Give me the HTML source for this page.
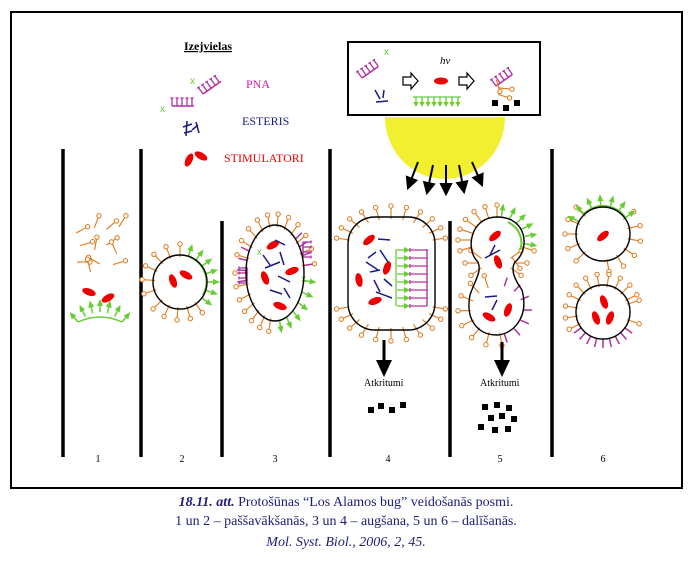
<!DOCTYPE html>
<html><head><meta charset="utf-8"><style>
html,body{margin:0;padding:0;background:#fff;}
body{width:692px;height:562px;overflow:hidden;position:relative;font-family:"Liberation Serif",serif;}
.cap{position:absolute;left:0;width:692px;text-align:center;color:#1c1c78;font-size:14px;line-height:16px;}
</style></head><body>
<svg id="s" width="692" height="562" style="position:absolute;left:0;top:0" font-family="Liberation Serif, serif">
<rect x="11" y="12" width="671" height="476" fill="none" stroke="#000" stroke-width="2"/>
<g stroke="#000" stroke-width="3.5">
<line x1="63" y1="149" x2="63" y2="457"/><line x1="141" y1="149" x2="141" y2="457"/>
<line x1="222" y1="221" x2="222" y2="457"/><line x1="330" y1="149" x2="330" y2="457"/>
<line x1="450" y1="221" x2="450" y2="457"/><line x1="552" y1="149" x2="552" y2="457"/>
</g>
<g font-size="10" text-anchor="middle"><text x="98" y="462">1</text><text x="182" y="462">2</text><text x="275" y="462">3</text><text x="388" y="462">4</text><text x="500" y="462">5</text><text x="603" y="462">6</text></g>
<!-- legend -->
<text x="184" y="50" font-size="12" font-weight="bold" text-decoration="underline">Izejvielas</text>
<text x="246" y="88" font-size="12" fill="#d020a0">PNA</text>
<text x="242" y="125" font-size="12" fill="#1a1a80">ESTERIS</text>
<text x="224" y="162" font-size="12" fill="#ee0000">STIMULATORI</text>
<g id="legend"></g>
<ellipse cx="189" cy="160" rx="3.5" ry="7" fill="#e00" transform="rotate(25 189 160)"/>
<ellipse cx="201" cy="156" rx="7" ry="3.5" fill="#e00" transform="rotate(30 201 156)"/>
<!-- top box -->
<rect x="348" y="42" width="192" height="73" fill="#fff" stroke="#000" stroke-width="2"/>
<path d="M385 117 A60 62 0 0 0 505 117 Z" fill="#f2ee30"/>
<text x="440" y="64" font-size="11" font-style="italic">hν</text>
<ellipse cx="441" cy="81" rx="7" ry="3.5" fill="#e00"/>
<path d="M403 77h8v-4l7 8-7 8v-4h-8z M459 77h8v-4l7 8-7 8v-4h-8z" fill="#fff" stroke="#000" stroke-width="1.2"/>
<g fill="#000"><rect x="492" y="100" width="6" height="6"/><rect x="503" y="105" width="6" height="6"/><rect x="514" y="100" width="6" height="6"/></g>
<g id="dyn"></g>
<!-- light arrows -->
<g stroke="#000" stroke-width="2" fill="#000" id="larr"></g>
<!-- cells -->
<g fill="none" stroke="#000" stroke-width="1.4">
<circle cx="180" cy="282" r="27"/>
<ellipse cx="275" cy="273" rx="29" ry="48"/>
<path d="M375 217 H408 A27 27 0 0 1 435 244 V303 A27 27 0 0 1 408 330 H375 A27 27 0 0 1 348 303 V244 A27 27 0 0 1 375 217Z"/>
<path d="M497 217 C528 217 530 250 515 262 C510 270 515 280 522 290 C530 320 510 335 497 335 C478 335 465 320 470 295 C475 280 482 272 478 262 C465 250 470 217 497 217Z"/>
<circle cx="603" cy="234" r="27"/><circle cx="603" cy="312" r="27"/>
</g>
<!-- down arrows -->
<line x1="384" y1="340" x2="384" y2="364" stroke="#000" stroke-width="3"/><path d="M376 360 L392 360 L384 377Z"/>
<line x1="502" y1="342" x2="502" y2="364" stroke="#000" stroke-width="3"/><path d="M494 360 L510 360 L502 377Z"/>
<text x="364" y="386" font-size="10">Atkritumi</text>
<text x="480" y="386" font-size="10">Atkritumi</text>
<g fill="#000">
<rect x="368" y="407" width="6" height="6"/><rect x="378" y="403" width="6" height="6"/><rect x="389" y="407" width="6" height="6"/><rect x="400" y="402" width="6" height="6"/>
<rect x="482" y="404" width="6" height="6"/><rect x="494" y="402" width="6" height="6"/><rect x="506" y="405" width="6" height="6"/>
<rect x="488" y="415" width="6" height="6"/><rect x="499" y="413" width="6" height="6"/><rect x="511" y="416" width="6" height="6"/>
<rect x="478" y="424" width="6" height="6"/><rect x="492" y="427" width="6" height="6"/><rect x="505" y="426" width="6" height="6"/>
</g>
</svg>
<div class="cap" style="top:495px"><b><i>18.11. att.</i></b> Protošūnas “Los Alamos bug” veidošanās posmi.</div>
<div class="cap" style="top:514px">1 un 2 – paššavākšanās, 3 un 4 – augšana, 5 un 6 – dalīšanās.</div>
<div class="cap" style="top:535px"><i>Mol. Syst. Biol., 2006, 2, 45.</i></div>
<script>
var NS="http://www.w3.org/2000/svg",S=document.getElementById("dyn");
function el(t,a,p){var e=document.createElementNS(NS,t);for(var k in a)e.setAttribute(k,a[k]);(p||S).appendChild(e);return e;}
var OR="#e07818",GR="#66cc33",PU="#b030a0",BL="#1a1a80";
function lipid(x,y,ang,len){len=len||11;var dx=Math.cos(ang),dy=Math.sin(ang);
 el("line",{x1:x-dx*2,y1:y-dy*2,x2:x+dx*len,y2:y+dy*len,stroke:OR,"stroke-width":1.1});
 el("circle",{cx:x+dx*(len+2),cy:y+dy*(len+2),r:2.2,fill:"#fff",stroke:OR,"stroke-width":1});}
function green(x,y,ang){var dx=Math.cos(ang),dy=Math.sin(ang),px=-dy,py=dx;
 el("line",{x1:x,y1:y,x2:x+dx*7,y2:y+dy*7,stroke:GR,"stroke-width":1.5});
 el("path",{d:"M"+(x+dx*13)+" "+(y+dy*13)+"L"+(x+dx*6+px*3)+" "+(y+dy*6+py*3)+"L"+(x+dx*6-px*3)+" "+(y+dy*6-py*3)+"Z",fill:GR});}
function purple(x,y,ang){var dx=Math.cos(ang),dy=Math.sin(ang);
 el("line",{x1:x,y1:y,x2:x+dx*9,y2:y+dy*9,stroke:PU,"stroke-width":1.5});}
function ring(cx,cy,rx,ry,a0,a1,n,fn,off){off=off||0;for(var i=0;i<n;i++){var a=a0+(a1-a0)*i/(n-1);
 fn(cx+(rx+off)*Math.cos(a),cy+(ry+off)*Math.sin(a),a);}}
function red(x,y,r){el("ellipse",{cx:x,cy:y,rx:7,ry:3.5,fill:"#e00",transform:"rotate("+r+" "+x+" "+y+")"});}
function bl(x1,y1,x2,y2){el("line",{x1:x1,y1:y1,x2:x2,y2:y2,stroke:BL,"stroke-width":1.5});}
function cross(x,y){el("text",{x:x,y:y,"font-size":10,fill:GR,"font-family":"Liberation Sans"}).textContent="x";}
function comb(x,y,w,rot){var g=el("g",{transform:"rotate("+rot+" "+x+" "+y+")"});
 el("line",{x1:x,y1:y,x2:x+w,y2:y,stroke:PU,"stroke-width":1.5},g);
 for(var i=0;i<=w;i+=5){el("line",{x1:x+i,y1:y,x2:x+i,y2:y-8,stroke:PU,"stroke-width":1.3},g);
 el("line",{x1:x+i-1.5,y1:y-8,x2:x+i+1.5,y2:y-8,stroke:PU,"stroke-width":1.3},g);}}
// legend
comb(172,106,22,0);comb(203,94,22,-35);cross(160,112);cross(190,84);
bl(183,127,192,124);bl(187,121,186,136);bl(192,130,198,125);bl(196,122,199,133);bl(184,133,192,131);
// box
comb(362,78,20,-35);cross(384,55);comb(496,86,20,-35);bl(375,90,380,99);bl(384,90,383,98);bl(376,102,388,101);
for(var i=0;i<8;i++){var x=416+i*6;el("line",{x1:x,y1:97,x2:x,y2:103,stroke:GR,"stroke-width":1.3});el("path",{d:"M"+(x-2.5)+" 102 L"+(x+2.5)+" 102 L"+x+" 107Z",fill:GR});}
el("line",{x1:413,y1:97,x2:461,y2:97,stroke:GR,"stroke-width":1.3});
lipid(497,82,Math.PI/2-0.3,8);lipid(500,88,0.1,10);lipid(500,95,0.3,8);
// light arrows
var L=document.getElementById("larr");
[[418,162,408,188],[433,165,427,193],[446,165,446,194],[459,165,464,192],[472,162,482,185]].forEach(function(a){
 var dx=a[2]-a[0],dy=a[3]-a[1],l=Math.hypot(dx,dy),ux=dx/l,uy=dy/l;
 el("line",{x1:a[0],y1:a[1],x2:a[2]-ux*8,y2:a[3]-uy*8,stroke:"#000","stroke-width":2},L);
 el("path",{d:"M"+a[2]+" "+a[3]+"L"+(a[2]-ux*10-uy*5)+" "+(a[3]-uy*10+ux*5)+"L"+(a[2]-ux*10+uy*5)+" "+(a[3]-uy*10-ux*5)+"Z"},L);});
// panel 1
var P1=[[78,232,-0.5],[95,226,-1.2],[108,228,-0.7],[120,225,-1.0],[82,245,-0.3],[95,248,-1.4],[108,244,-0.6],[116,252,-2],[79,262,0],[98,263,-2.6],[115,264,-0.3],[90,270,-1.8]];
P1.forEach(function(p){lipid(p[0],p[1],p[2],9);});
red(89,292,20);red(108,298,-30);
el("path",{d:"M78 322 Q100 312 122 322",fill:"none",stroke:GR,"stroke-width":1.5});
for(var i=0;i<7;i++){var t=i/6,x=78+44*t,y=322-20*t*(1-t)*2;green(x,y,-Math.PI/2+(t-0.5)*1.4);}
// cell2
ring(180,282,27,27,Math.PI*0.9,Math.PI*1.5,6,function(x,y,a){lipid(x,y,a,9);});
ring(180,282,27,27,Math.PI*0.3,Math.PI*0.75,5,function(x,y,a){lipid(x,y,a,9);});
ring(180,282,27,27,-Math.PI*0.4,Math.PI*0.2,7,function(x,y,a){green(x,y,a);});
el("path",{d:"M190 257 A27 27 0 0 1 203 295",fill:"none",stroke:GR,"stroke-width":2});
red(173,281,70);red(186,275,30);
// cell3
ring(275,273,29,48,Math.PI*1.1,Math.PI*1.95,11,function(x,y,a){lipid(x,y,a,9);});
ring(275,273,29,48,Math.PI*0.55,Math.PI*1.0,7,function(x,y,a){lipid(x,y,a,9);});
ring(275,273,29,48,Math.PI*0.05,Math.PI*0.45,6,function(x,y,a){green(x,y,a);});
ring(275,273,29,48,-Math.PI*0.25,-Math.PI*0.05,4,function(x,y,a){purple(x,y,a);});
ring(275,273,29,48,Math.PI*0.95,Math.PI*1.15,4,function(x,y,a){purple(x,y,a);});
comb(247,283,16,-90);comb(303,242,16,90);
cross(257,255);cross(301,282);
red(273,245,-30);red(292,271,-20);red(265,278,70);red(280,306,20);
bl(275,240,285,245);bl(263,255,270,265);bl(280,252,284,265);bl(265,268,280,262);bl(278,276,290,282);bl(270,290,282,294);bl(284,288,290,298);
// cell4
ring(391,244,44,27,Math.PI*1.05,Math.PI*1.95,11,function(x,y,a){lipid(x,y,a,9);});
ring(391,303,44,27,Math.PI*0.05,Math.PI*0.95,11,function(x,y,a){lipid(x,y,a,9);});
red(369,240,-40);red(387,268,-70);red(359,280,80);red(375,301,-20);
bl(378,239,390,240);bl(368,258,376,252);bl(380,250,388,262);bl(366,262,378,270);bl(370,272,380,270);bl(374,280,380,292);bl(384,279,392,286);bl(376,292,392,298);
for(var i=0;i<8;i++){var y=250+i*8;el("line",{x1:397,y1:y,x2:404,y2:y,stroke:GR,"stroke-width":1.3});el("path",{d:"M404 "+(y-3)+" L410 "+y+" L404 "+(y+3)+"Z",fill:GR});}
el("line",{x1:396,y1:249,x2:396,y2:306,stroke:GR,"stroke-width":1.3});
el("line",{x1:427,y1:249,x2:427,y2:306,stroke:PU,"stroke-width":1.4});
for(var i=0;i<8;i++){var y=250+i*8;el("line",{x1:410,y1:y,x2:427,y2:y,stroke:PU,"stroke-width":1.2});el("line",{x1:410,y1:y-2,x2:410,y2:y+2,stroke:PU,"stroke-width":1.2});}
// cell5
ring(497,240,28,24,Math.PI*0.9,Math.PI*1.5,7,function(x,y,a){lipid(x,y,a,9);});
ring(497,240,28,24,-Math.PI*0.45,Math.PI*0.05,6,function(x,y,a){green(x,y,a);});
ring(497,240,28,24,Math.PI*0.1,Math.PI*0.3,2,function(x,y,a){lipid(x,y,a,9);});
ring(496,263,20,10,Math.PI*0.8,Math.PI*1.2,3,function(x,y,a){lipid(x,y,a,9);});
ring(496,263,20,10,-Math.PI*0.2,Math.PI*0.2,3,function(x,y,a){lipid(x,y,a,9);});
ring(496,310,27,25,Math.PI*0.45,Math.PI*1.4,8,function(x,y,a){lipid(x,y,a,9);});
ring(496,310,27,25,-Math.PI*0.4,Math.PI*0.4,7,function(x,y,a){purple(x,y,a);});
el("path",{d:"M508 222 A28 24 0 0 1 520 250",fill:"none",stroke:GR,"stroke-width":2});
red(495,236,-40);red(498,262,70);red(489,317,30);red(508,310,-70);
bl(495,245,490,255);bl(485,258,500,250);bl(485,297,497,296);bl(497,300,492,310);
// cell6
ring(603,234,27,27,Math.PI*0.75,Math.PI*1.25,5,function(x,y,a){lipid(x,y,a,9);});
ring(603,234,27,27,-Math.PI*0.2,Math.PI*0.45,6,function(x,y,a){lipid(x,y,a,9);});
ring(603,234,27,27,-Math.PI*0.85,-Math.PI*0.2,7,function(x,y,a){green(x,y,a);});
el("path",{d:"M583 215 A27 27 0 0 1 625 217",fill:"none",stroke:GR,"stroke-width":2});
red(603,236,-40);
ring(603,312,27,27,Math.PI*0.85,Math.PI*1.85,11,function(x,y,a){lipid(x,y,a,9);});
ring(603,312,27,27,-Math.PI*0.1,Math.PI*0.1,2,function(x,y,a){lipid(x,y,a,9);});
ring(603,312,27,27,Math.PI*0.2,Math.PI*0.8,9,function(x,y,a){purple(x,y,a);});
red(596,318,70);red(610,318,-70);red(604,302,70);
</script>
</body></html>
